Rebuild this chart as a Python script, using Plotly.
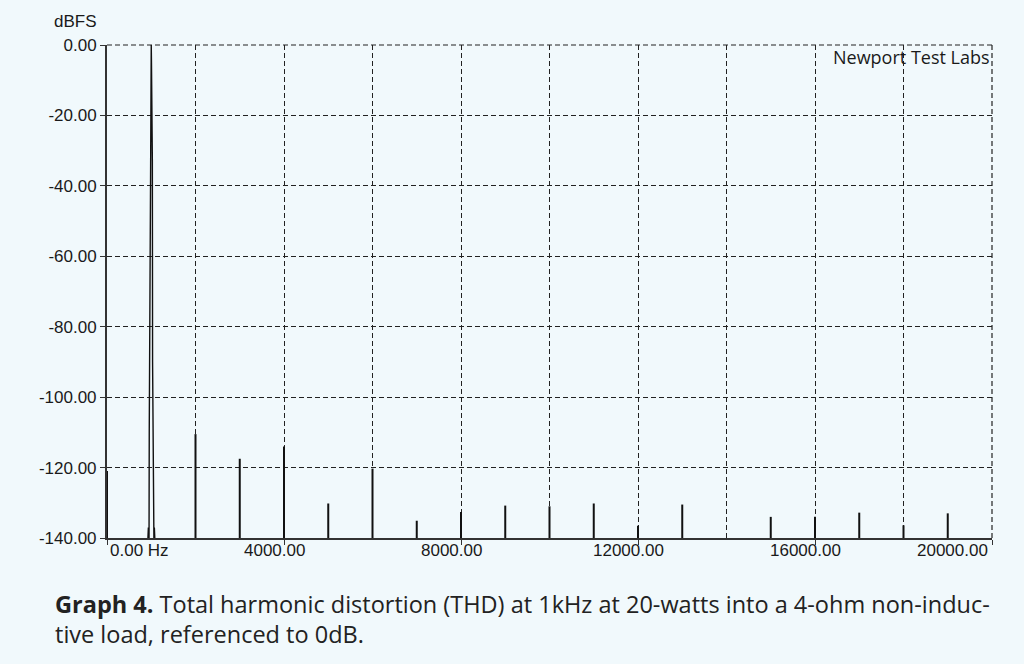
import plotly.graph_objects as go

# ---------------- data ----------------
harmonic_freq = [0, 2000, 3000, 4000, 5000, 6000, 7000, 8000, 9000, 10000,
                 11000, 12000, 13000, 15000, 16000, 17000, 18000, 19000]
harmonic_db = [-121.0, -110.5, -117.5, -114.0, -130.2, -120.3, -135.1, -132.6, -130.8, -131.0,
               -130.2, -136.5, -130.5, -134.0, -134.0, -132.8, -136.4, -133.0]

fund_freq = [925, 935, 945, 950, 955, 975, 995, 1000, 1005, 1025, 1030, 1050, 1060, 1070, 1080]
fund_db = [-140, -137, -140, -140, -109, -40, -5, 0, -5, -33, -90, -140, -140, -137, -140]

x_tick_vals = [0, 4000, 8000, 12000, 16000, 20000]
x_tick_text = ["0.00 Hz", "4000.00", "8000.00", "12000.00", "16000.00", "20000.00"]
y_tick_vals = [0, -20, -40, -60, -80, -100, -120, -140]
y_tick_text = ["0.00", "-20.00", "-40.00", "-60.00", "-80.00", "-100.00", "-120.00", "-140.00"]

BASE = -140

# ---------------- figure ----------------
BG = "#f1f9fc"
INK = "#1a1a1a"
GRID = "#222222"
DASH = "5px,3px"
AXFONT = "Liberation Sans, Arial, sans-serif"

spike_x, spike_y = [], []
for f, v in zip(harmonic_freq, harmonic_db):
    spike_x += [f, f, None]
    spike_y += [BASE, v, None]

fig = go.Figure()
fig.add_trace(go.Scatter(x=spike_x, y=spike_y, mode="lines",
                         line=dict(color="#111111", width=2), hoverinfo="skip",
                         showlegend=False))
fig.add_trace(go.Scatter(x=fund_freq, y=fund_db, mode="lines",
                         line=dict(color="#111111", width=1.4), hoverinfo="skip",
                         showlegend=False))

W, H = 1024, 664
L, R, T, B = 107, 32, 45, 126
pw = W - L - R
ph = H - T - B

def px_to_paper_x(px):
    return (px - L) / pw

def px_to_paper_y(py):
    return (H - B - py) / ph

fig.update_layout(
    width=W, height=H,
    margin=dict(l=L, r=R, t=T, b=B, pad=0),
    paper_bgcolor=BG, plot_bgcolor=BG,
    showlegend=False,
    xaxis=dict(
        range=[0, 20000], showgrid=True, gridcolor=GRID, gridwidth=1.2, griddash=DASH,
        tickvals=x_tick_vals, showticklabels=False, ticks="outside", ticklen=5,
        tickcolor="#333333", showline=True, linecolor="#333333", linewidth=2, zeroline=False,
        minor=dict(dtick=2000, tick0=0, showgrid=True, gridcolor=GRID, gridwidth=1.2,
                   griddash=DASH, ticks=""),
    ),
    yaxis=dict(
        range=[-140, 0], showgrid=True, gridcolor=GRID, gridwidth=1.2, griddash=DASH,
        tickvals=y_tick_vals, ticktext=y_tick_text, ticks="outside", ticklen=5,
        tickcolor="#333333", showline=True, linecolor="#333333", linewidth=2, zeroline=False,
        tickfont=dict(family=AXFONT, size=17, color=INK),
    ),
)

# dashed frame on the top and right edges (plotly drops grid lines at range ends)
fig.add_shape(type="line", xref="paper", yref="paper", x0=0, x1=1, y0=1, y1=1,
              line=dict(color=GRID, width=1.2, dash=DASH), layer="below")
fig.add_shape(type="line", xref="paper", yref="paper", x0=1, x1=1, y0=0, y1=1,
              line=dict(color=GRID, width=1.2, dash=DASH), layer="below")

# x tick labels as annotations (first left-aligned, last right-aligned)
for i, (v, t) in enumerate(zip(x_tick_vals, x_tick_text)):
    if i == 0:
        anchor, shift = "left", 1
    elif i == len(x_tick_vals) - 1:
        anchor, shift = "right", -2
    else:
        anchor, shift = "center", -10
    fig.add_annotation(x=v, y=0, xref="x", yref="paper", text=t, showarrow=False,
                       xanchor=anchor, yanchor="top", xshift=shift, yshift=-1,
                       font=dict(family=AXFONT, size=17, color=INK))

# axis unit label
fig.add_annotation(x=px_to_paper_x(99), y=px_to_paper_y(10), xref="paper", yref="paper",
                   text="dBFS", showarrow=False, xanchor="right", yanchor="top",
                   font=dict(family=AXFONT, size=17, color=INK))

# watermark
fig.add_annotation(x=px_to_paper_x(992), y=px_to_paper_y(43), xref="paper", yref="paper",
                   text="Newport Test Labs", showarrow=False, xanchor="right", yanchor="top",
                   font=dict(family="Open Sans, sans-serif", size=18, color=INK))

# caption
CAP = "Open Sans, sans-serif"
fig.add_annotation(x=px_to_paper_x(53), y=px_to_paper_y(604), xref="paper", yref="paper",
                   text="<b>Graph 4.</b> Total harmonic distortion (THD) at 1kHz at 20-watts into a 4-ohm non-induc-",
                   showarrow=False, xanchor="left", yanchor="middle",
                   font=dict(family=CAP, size=23.5, color="#222222"))
fig.add_annotation(x=px_to_paper_x(53), y=px_to_paper_y(634), xref="paper", yref="paper",
                   text="tive load, referenced to 0dB.",
                   showarrow=False, xanchor="left", yanchor="middle",
                   font=dict(family=CAP, size=23.5, color="#222222"))

fig.write_html(
    "out.html",
    config={"displayModeBar": False},
    post_script="document.body.style.margin='0';document.body.style.background='" + BG + "';",
)
